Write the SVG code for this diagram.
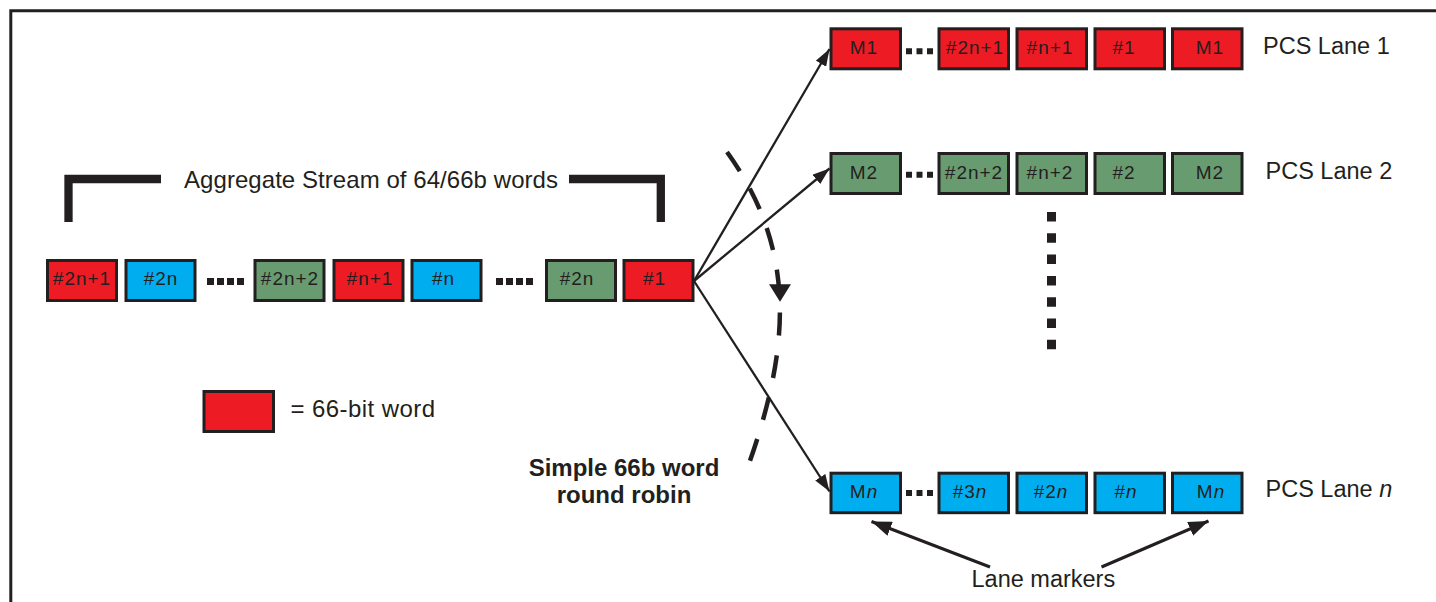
<svg xmlns="http://www.w3.org/2000/svg" width="1436" height="602" viewBox="0 0 1436 602">
<style>
text{font-family:"Liberation Sans",Arial,Helvetica,sans-serif;fill:#231f20}
.w{stroke:#231f20;stroke-width:3}
.r{fill:#ed1c24}
.b{fill:#00aeef}
.g{fill:#699b70}
.lb{font-size:19px;letter-spacing:1px;text-anchor:middle}
.big{font-size:23.5px}
.bold{font-size:24px;font-weight:bold;text-anchor:middle}
.con{stroke:#231f20;fill:none}
.it{font-style:italic}
</style>
<defs>
<marker id="ah" markerUnits="userSpaceOnUse" markerWidth="18" markerHeight="12" refX="17" refY="6" orient="auto"><path d="M0,0 L17,6 L0,12 z" fill="#231f20"/></marker>
<marker id="ah2" markerUnits="userSpaceOnUse" markerWidth="21" markerHeight="15" refX="20" refY="7.5" orient="auto"><path d="M0,0 L20,7.5 L0,15 z" fill="#231f20"/></marker>
</defs>
<path d="M10.8,602 V10.8 H1436" fill="none" stroke="#231f20" stroke-width="3"/>

<g id="bracket">
<path d="M68.5,222 V179 H161" fill="none" stroke="#231f20" stroke-width="8.3"/>
<path d="M569,179 H660.8 V222" fill="none" stroke="#231f20" stroke-width="8.3"/>
<text x="184" y="187.5" font-size="24" textLength="374">Aggregate Stream of 64/66b words</text>
</g>

<g id="stream">
<rect class="w r" x="47.5" y="260.5" width="69" height="40"/><text class="lb" x="82" y="285">#2n+1</text>
<rect class="w b" x="126" y="260.5" width="69" height="40"/><text class="lb" x="161" y="285">#2n</text>
<line x1="207" y1="281.5" x2="244" y2="281.5" stroke="#231f20" stroke-width="7" stroke-dasharray="7 3"/>
<rect class="w g" x="255" y="260.5" width="69" height="40"/><text class="lb" x="290" y="285">#2n+2</text>
<rect class="w r" x="334" y="260.5" width="69" height="40"/><text class="lb" x="370" y="285">#n+1</text>
<rect class="w b" x="412" y="260.5" width="69" height="40"/><text class="lb" x="443.5" y="285">#n</text>
<line x1="496" y1="281.5" x2="533" y2="281.5" stroke="#231f20" stroke-width="7" stroke-dasharray="7 3"/>
<rect class="w g" x="546.5" y="260.5" width="69" height="40"/><text class="lb" x="577" y="285">#2n</text>
<rect class="w r" x="624" y="260.5" width="69" height="40"/><text class="lb" x="654.5" y="285">#1</text>
</g>

<g id="legend">
<rect class="w r" x="204" y="391.5" width="69.5" height="40"/>
<text x="290.5" y="416.7" font-size="24" textLength="144.5">= 66-bit word</text>
</g>

<g id="lane1">
<rect class="w r" x="831" y="28.8" width="69.5" height="40"/><text class="lb" x="864" y="54.3">M1</text>
<line x1="906" y1="51.3" x2="933" y2="51.3" stroke="#231f20" stroke-width="6" stroke-dasharray="6 4.5"/>
<rect class="w r" x="939" y="28.8" width="69.5" height="40"/><text class="lb" x="975" y="54.3">#2n+1</text>
<rect class="w r" x="1017" y="28.8" width="69.5" height="40"/><text class="lb" x="1050" y="54.3">#n+1</text>
<rect class="w r" x="1095" y="28.8" width="69.5" height="40"/><text class="lb" x="1124" y="54.3">#1</text>
<rect class="w r" x="1172.5" y="28.8" width="69.5" height="40"/><text class="lb" x="1210" y="54.3">M1</text>
<text class="big" x="1263" y="54.3">PCS Lane 1</text>
</g>

<g id="lane2">
<rect class="w g" x="831" y="153.5" width="69.5" height="40"/><text class="lb" x="864" y="179">M2</text>
<line x1="906" y1="174.7" x2="933" y2="174.7" stroke="#231f20" stroke-width="6" stroke-dasharray="6 4.5"/>
<rect class="w g" x="939" y="153.5" width="69.5" height="40"/><text class="lb" x="974" y="179">#2n+2</text>
<rect class="w g" x="1017" y="153.5" width="69.5" height="40"/><text class="lb" x="1050" y="179">#n+2</text>
<rect class="w g" x="1095" y="153.5" width="69.5" height="40"/><text class="lb" x="1124" y="179">#2</text>
<rect class="w g" x="1172.5" y="153.5" width="69.5" height="40"/><text class="lb" x="1210" y="179">M2</text>
<text class="big" x="1265.5" y="178.5">PCS Lane 2</text>
</g>

<g id="vdots">
<line x1="1051.5" y1="212" x2="1051.5" y2="349.5" stroke="#231f20" stroke-width="9" stroke-dasharray="9.5 11.8"/>
</g>

<g id="lanen">
<rect class="w b" x="831" y="473.2" width="69.5" height="39.5"/><text class="lb" x="864" y="498.3">M<tspan class="it">n</tspan></text>
<line x1="906" y1="493" x2="933" y2="493" stroke="#231f20" stroke-width="6" stroke-dasharray="6 4.5"/>
<rect class="w b" x="939" y="473.2" width="69.5" height="39.5"/><text class="lb" x="970" y="498.3">#3<tspan class="it">n</tspan></text>
<rect class="w b" x="1017" y="473.2" width="69.5" height="39.5"/><text class="lb" x="1051" y="498.3">#2<tspan class="it">n</tspan></text>
<rect class="w b" x="1095" y="473.2" width="69.5" height="39.5"/><text class="lb" x="1126" y="498.3">#<tspan class="it">n</tspan></text>
<rect class="w b" x="1172.5" y="473.2" width="69.5" height="39.5"/><text class="lb" x="1211" y="498.3">M<tspan class="it">n</tspan></text>
<text class="big" x="1265.5" y="497">PCS Lane <tspan class="it">n</tspan></text>
</g>

<g id="labels">
<text class="bold" x="624" y="476">Simple 66b word</text>
<text class="bold" x="624" y="503">round robin</text>
<text class="big" x="971.5" y="586.7">Lane markers</text>
</g>

<g id="connectors">
<line class="con" x1="694" y1="281" x2="829.5" y2="49" stroke-width="2.3" marker-end="url(#ah)"/>
<line class="con" x1="694" y1="281" x2="829.5" y2="168.5" stroke-width="2.3" marker-end="url(#ah)"/>
<line class="con" x1="694" y1="281" x2="829.5" y2="491.5" stroke-width="2.3" marker-end="url(#ah)"/>
<line class="con" x1="990" y1="567" x2="871.5" y2="521.5" stroke-width="3" marker-end="url(#ah2)"/>
<line class="con" x1="1101.5" y1="567" x2="1208.5" y2="521" stroke-width="3" marker-end="url(#ah2)"/>
<path class="con" d="M727,152 C798.5,251 790,351 746,472" stroke-width="4.5" stroke-dasharray="23 20"/>
<polygon points="769,284.3 791,284.3 780,301.7" fill="#231f20"/>
</g>
</svg>
